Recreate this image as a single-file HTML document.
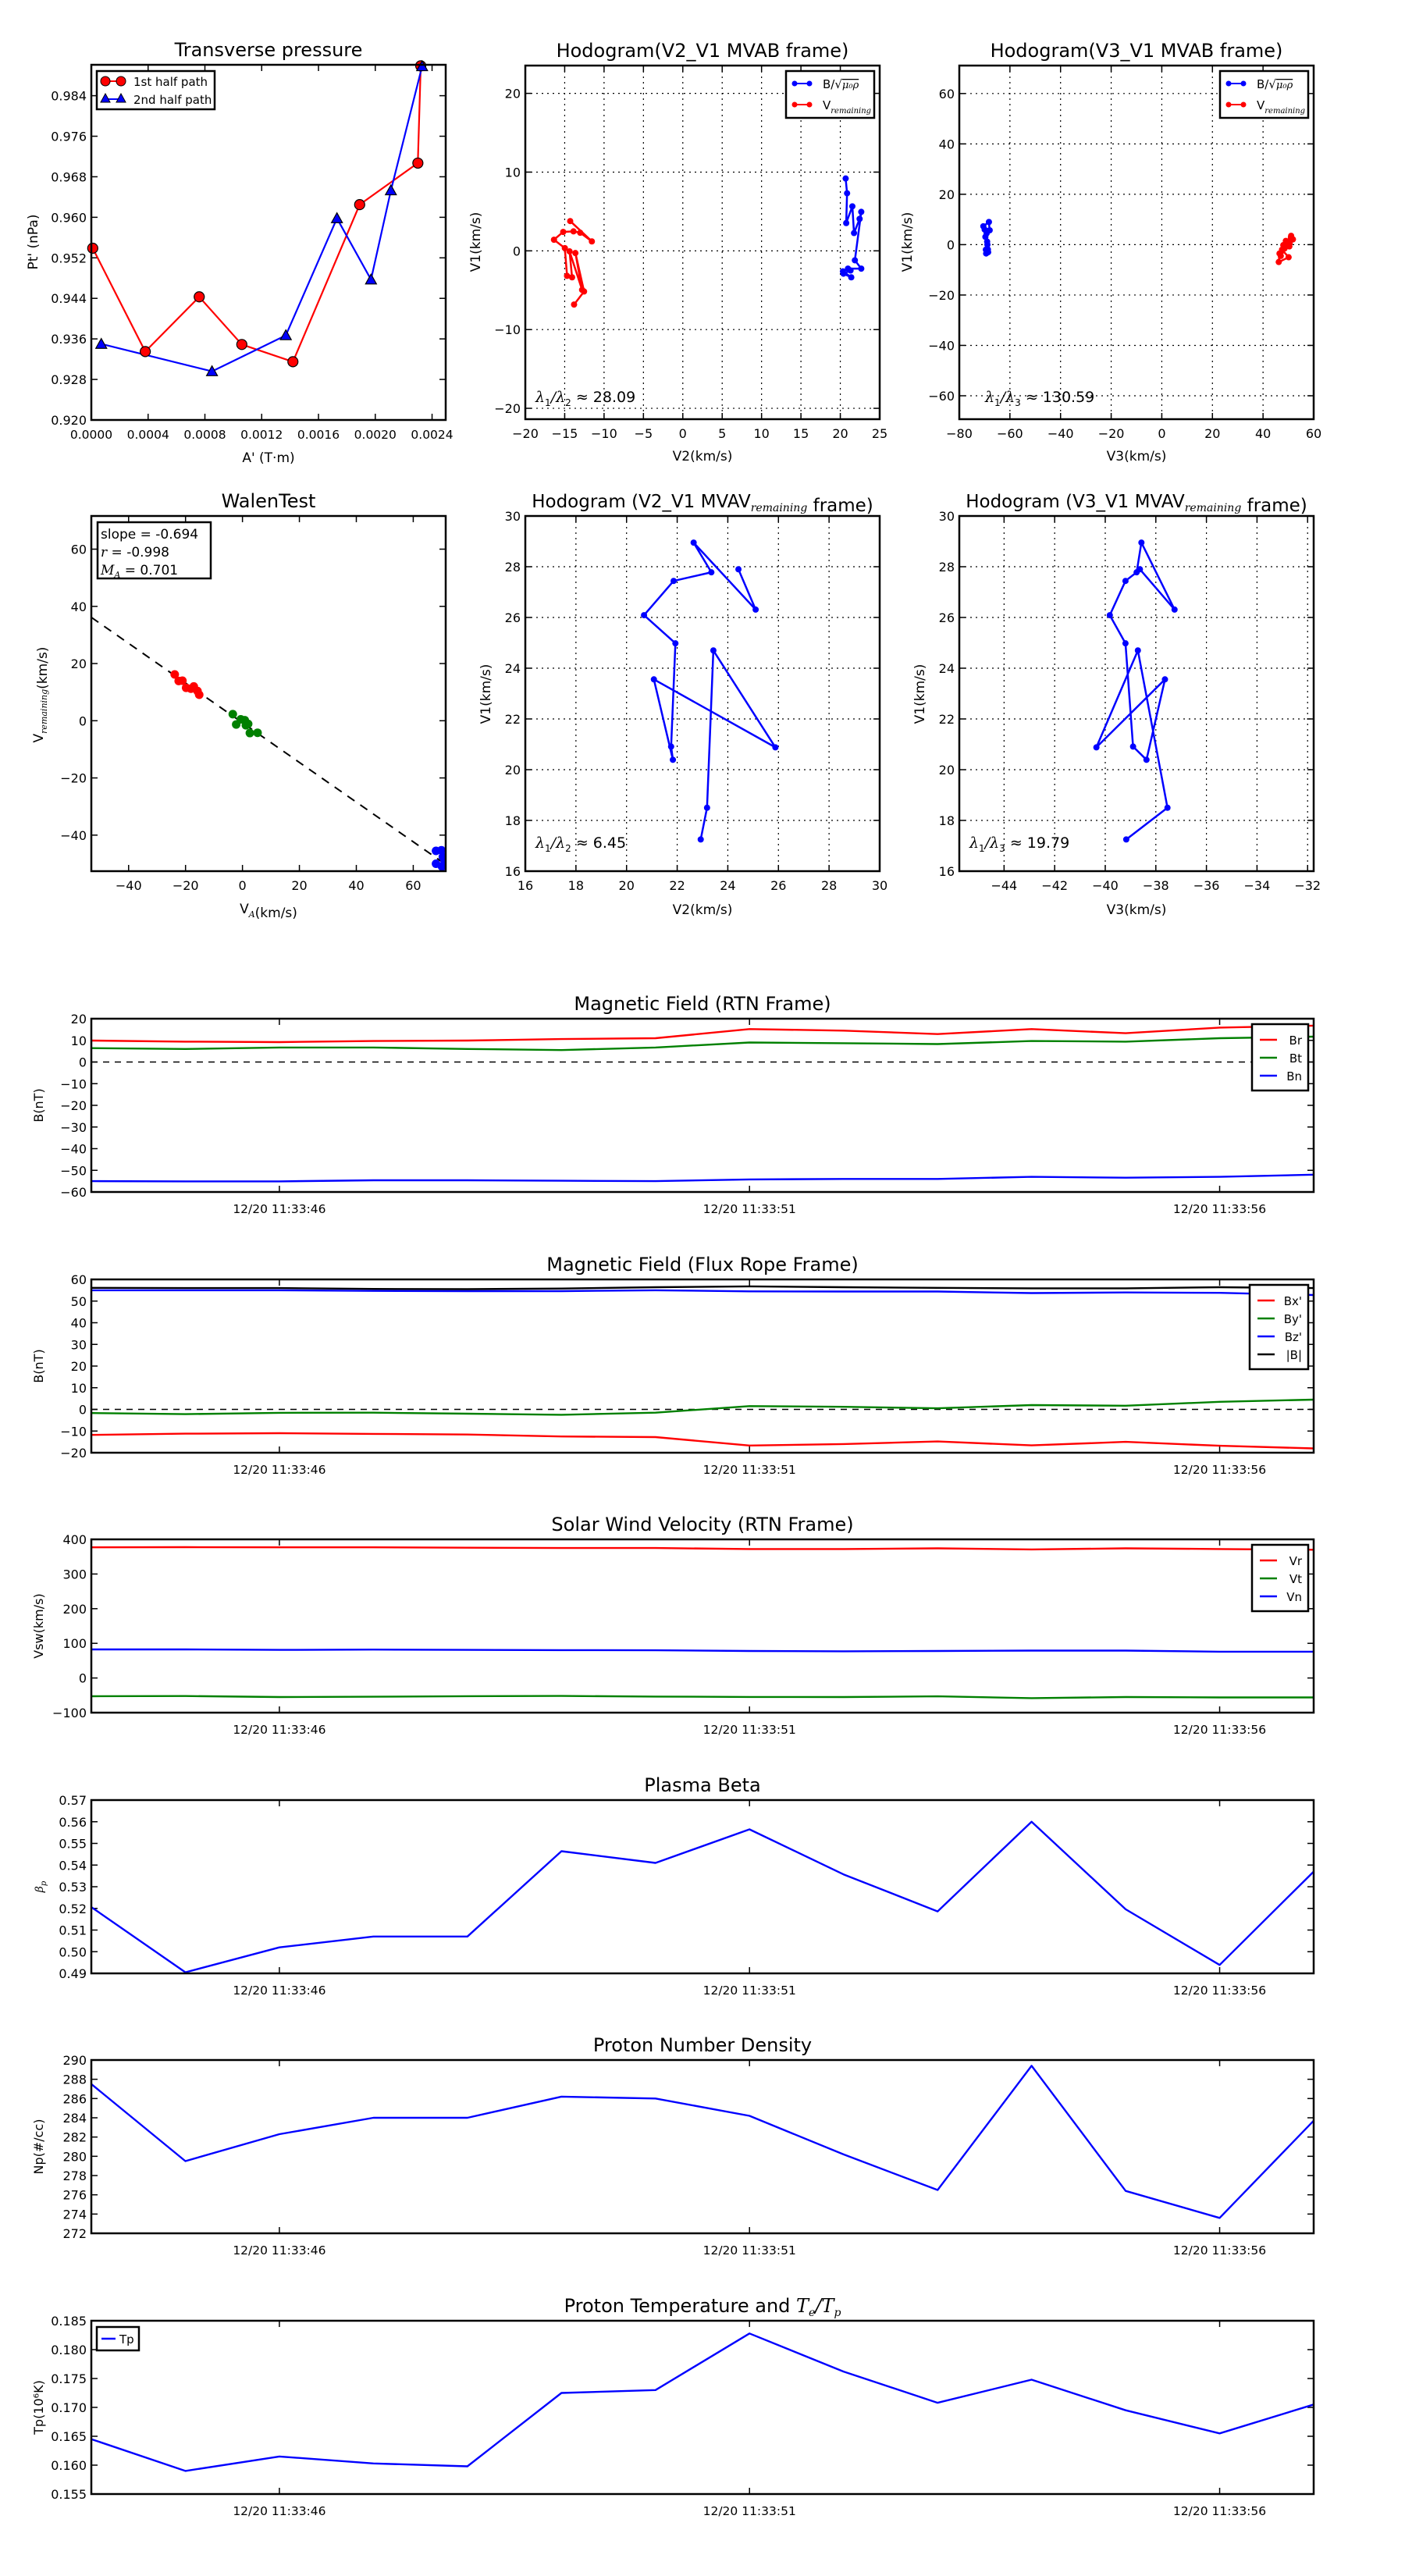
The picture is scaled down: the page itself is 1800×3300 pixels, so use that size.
<!DOCTYPE html>
<html><head><meta charset="utf-8">
<style>
html,body{margin:0;padding:0;background:#fff;}
svg{display:block;font-family:"DejaVu Sans","Liberation Sans",sans-serif;}
</style></head>
<body>
<svg id="fig" xmlns="http://www.w3.org/2000/svg" width="1800" height="3300" viewBox="0 0 1800 3300"></svg>
<script>
// ---------- DATA ----------
// Transverse pressure
const tpX1 = [0.00001,0.00038,0.00076,0.00106,0.00142,0.00189,0.00230,0.00232];
const tpY1 = [0.9539,0.9335,0.9443,0.9349,0.9315,0.9625,0.9707,0.9899];
const tpX2 = [0.00007,0.00085,0.00137,0.00173,0.00197,0.00211,0.00233];
const tpY2 = [0.9350,0.9296,0.9367,0.9598,0.9477,0.9653,0.9898];
const tpXTicks = [0,0.0004,0.0008,0.0012,0.0016,0.0020,0.0024];
const tpXTickLabels = ["0.0000","0.0004","0.0008","0.0012","0.0016","0.0020","0.0024"];
const tpYTicks = [0.920,0.928,0.936,0.944,0.952,0.960,0.968,0.976,0.984];
// Hodogram V2_V1 MVAB
const h1BV2 = [20.68,20.86,20.75,21.53,21.74,22.45,22.66,21.85,22.66,20.97,20.33,21.39,20.40,21.30];
const h1BV1 = [9.19,7.31,3.53,5.65,2.26,4.06,4.95,-1.20,-2.26,-2.26,-2.61,-3.36,-2.90,-2.50];
const h1VV2 = [-13.81,-12.54,-13.64,-12.79,-14.38,-14.06,-14.70,-14.98,-16.36,-15.19,-13.88,-13.03,-11.55,-14.30];
const h1VV1 = [-6.82,-5.16,-0.28,-4.95,-0.07,-3.36,-3.18,0.35,1.41,2.40,2.47,2.30,1.20,3.78];
const h1XTicks = [-20,-15,-10,-5,0,5,10,15,20,25];
const h1YTicks = [-20,-10,0,10,20];
// Hodogram V3_V1 MVAB
const h2BV3 = [-70.5,-68.3,-68.0,-69.7,-69.0,-68.7,-69.4,-69.0,-68.6,-70.0,-69.2,-68.9,-69.5,-69.1];
const h2BV1 = [7.3,9.0,5.7,3.1,1.2,-1.9,-3.5,-2.5,-3.0,6.0,4.5,0.0,-2.0,-3.2];
const h2VV3 = [51.1,51.8,49.4,50.4,48.0,46.5,46.2,50.1,47.5,49.0,51.0,48.5,47.0,50.5];
const h2VV1 = [3.5,2.1,0.9,-0.7,-0.2,-3.5,-6.9,-5.0,-2.0,1.5,2.8,-1.5,-4.5,0.5];
const h2XTicks = [-80,-60,-40,-20,0,20,40,60];
const h2YTicks = [-60,-40,-20,0,20,40,60];
// Walen test
const wRedX = [-23.8,-22.4,-21.1,-19.8,-18.1,-17.1,-15.8,-15.2];
const wRedY = [16.2,13.9,14.0,11.5,11.2,12.0,10.4,9.1];
const wGreenX = [-3.4,-2.2,-0.6,0.8,1.2,2.0,2.6,5.3];
const wGreenY = [2.3,-1.3,0.5,0.2,-1.6,-1.1,-4.3,-4.2];
const wBlueX = [68.0,69.9,68.0,70.1,70.4,71.0];
const wBlueY = [-45.5,-45.3,-50.0,-51.0,-47.6,-49.0];
const wSlope = -0.694, wIntercept = -0.7;
const wXTicks = [-40,-20,0,20,40,60];
const wYTicks = [-40,-20,0,20,40,60];
// Hodograms MVAV remaining
const mvV1 = [17.25,18.5,24.7,20.88,23.56,20.39,20.91,24.98,26.09,27.44,27.78,28.95,26.31,27.9];
const mvV2 = [22.93,23.18,23.43,25.88,21.08,21.83,21.76,21.93,20.69,21.86,23.35,22.65,25.10,24.42];
const mvV3 = [-39.17,-37.54,-38.71,-40.35,-37.64,-38.37,-38.90,-39.20,-39.82,-39.20,-38.76,-38.57,-37.26,-38.63];
const mvV2Ticks = [16,18,20,22,24,26,28,30];
const mvV3Ticks = [-44,-42,-40,-38,-36,-34,-32];
const mvV1Ticks = [16,18,20,22,24,26,28,30];
// Time series (index seconds from 11:33:44)
const tIdx = [0,1,2,3,4,5,6,7,8,9,10,11,12,13];
const tTickIdx = [2,7,12];
const tTickLabels = ["12/20 11:33:46","12/20 11:33:51","12/20 11:33:56"];
const Br = [9.9,9.4,9.2,9.7,9.9,10.6,11.0,15.2,14.5,12.9,15.2,13.3,15.9,16.8];
const Bt = [6.4,6.0,6.7,6.7,6.0,5.5,6.7,9.0,8.7,8.3,9.7,9.4,11.0,11.7];
const Bn = [-55.0,-55.1,-55.1,-54.6,-54.6,-54.8,-55.0,-54.2,-54.0,-54.0,-53.0,-53.4,-53.0,-52.0];
const rtnYTicks = [-60,-50,-40,-30,-20,-10,0,10,20];
const Bx_ = [-11.8,-11.2,-11.0,-11.3,-11.6,-12.5,-12.8,-16.7,-16.0,-14.8,-16.6,-15.0,-16.8,-18.0];
const By_ = [-1.7,-2.2,-1.6,-1.5,-2.0,-2.5,-1.5,1.5,1.2,0.5,2.0,1.7,3.5,4.5];
const Bz_ = [55.0,55.0,55.0,54.7,54.6,54.6,55.0,54.5,54.4,54.4,53.7,54.0,53.8,52.8];
const Bmag = [56.1,56.0,56.0,55.6,55.5,55.8,56.4,56.8,56.4,56.1,55.9,55.9,56.4,56.0];
const frYTicks = [-20,-10,0,10,20,30,40,50,60];
const Vr = [377,377.5,377,377,376,375,375,372,372,374,371,374,372,370];
const Vt = [-52.6,-52,-55,-54,-52.5,-51.8,-53.5,-54.7,-55,-53,-58,-55,-56,-56];
const Vn = [82.5,82.5,81,82,81,80.5,80,78,77,78,79,79,76,76];
const vYTicks = [-100,0,100,200,300,400];
const beta = [0.5206,0.4905,0.502,0.507,0.507,0.5464,0.541,0.5565,0.5357,0.5186,0.560,0.5196,0.4939,0.537];
const betaYTicks = [0.49,0.50,0.51,0.52,0.53,0.54,0.55,0.56,0.57];
const np = [287.5,279.5,282.3,284.0,284.0,286.2,286.0,284.2,280.2,276.5,289.4,276.4,273.6,283.7];
const npYTicks = [272,274,276,278,280,282,284,286,288,290];
const tp = [0.1645,0.159,0.1615,0.1603,0.1598,0.1725,0.173,0.1828,0.1762,0.1708,0.1748,0.1695,0.1655,0.1705];
const tpTYTicks = [0.155,0.160,0.165,0.170,0.175,0.180,0.185];
</script>
<script>
const NS="http://www.w3.org/2000/svg";
const svg=document.getElementById('fig');
function mk(tag,attrs,parent){const e=document.createElementNS(NS,tag);for(const k in attrs)e.setAttribute(k,attrs[k]);(parent||svg).appendChild(e);return e;}
function txt(s,x,y,opt,parent){opt=opt||{};const t=mk('text',{x:x,y:y,'font-size':opt.size||16,'text-anchor':opt.anchor||'middle',fill:'#000'},parent);if(opt.rot)t.setAttribute('transform','rotate(-90 '+x+' '+y+')');t.textContent=s;return t;}
function axes(name,x0,y0,x1,y1,xmin,xmax,ymin,ymax){
  const g=mk('g',{});
  
  
  const sx=v=>x0+(v-xmin)/(xmax-xmin)*(x1-x0);
  const sy=v=>y1-(v-ymin)/(ymax-ymin)*(y1-y0);
  return {g,sx,sy,x0,y0,x1,y1};
}
function frame(a){
  const r=mk('rect',{x:a.x0,y:a.y0,width:a.x1-a.x0,height:a.y1-a.y0,fill:'none',stroke:'#000','stroke-width':2.5},a.g);
  
  
}
function xticks(a,vals,labels,opt){
  opt=opt||{};
  vals.forEach((v,i)=>{const x=a.sx(v);
    if(opt.grid){mk('line',{x1:x,y1:a.y0,x2:x,y2:a.y1,stroke:'#000','stroke-width':1.2,'stroke-dasharray':'2,5'},a.g);}
    mk('line',{x1:x,y1:a.y1,x2:x,y2:a.y1-8,stroke:'#000','stroke-width':1.5},a.g);
    mk('line',{x1:x,y1:a.y0,x2:x,y2:a.y0+8,stroke:'#000','stroke-width':1.5},a.g);
    const t=txt(labels?labels[i]:fmt(v),x,a.y1+(opt.dy||24),{size:opt.size||16},a.g);
    
    
  });
}
function fmt(v){return v<0?'\u2212'+Math.abs(v):String(v);}
function yticks(a,vals,labels,opt){
  opt=opt||{};
  vals.forEach((v,i)=>{const y=a.sy(v);
    if(opt.grid){mk('line',{x1:a.x0,y1:y,x2:a.x1,y2:y,stroke:'#000','stroke-width':1.2,'stroke-dasharray':'2,5'},a.g);}
    mk('line',{x1:a.x0,y1:y,x2:a.x0+8,y2:y,stroke:'#000','stroke-width':1.5},a.g);
    mk('line',{x1:a.x1,y1:y,x2:a.x1-8,y2:y,stroke:'#000','stroke-width':1.5},a.g);
    const t=txt(labels?labels[i]:fmt(v),a.x0-6,y+6,{size:opt.size||16,anchor:'end'},a.g);
    
    
  });
}
function poly(a,xs,ys,color,w,name){
  const pts=xs.map((x,i)=>a.sx(x).toFixed(1)+','+a.sy(ys[i]).toFixed(1)).join(' ');
  const p=mk('polyline',{points:pts,fill:'none',stroke:color,'stroke-width':w||2.2,'stroke-linejoin':'round'},a.g);
  
  
  return p;
}
function dots(a,xs,ys,color,r,name,stroke){
  xs.forEach((x,i)=>{const c=mk('circle',{cx:a.sx(x),cy:a.sy(ys[i]),r:r,fill:color,stroke:stroke||'none','stroke-width':1.2},a.g);
    
    });
}
function tris(a,xs,ys,color,s,name){
  xs.forEach((x,i)=>{const cx=a.sx(x),cy=a.sy(ys[i]);
    const p=mk('polygon',{points:`${cx},${cy-s} ${cx-s},${cy+s*0.8} ${cx+s},${cy+s*0.8}`,fill:color,stroke:'#000','stroke-width':1.2},a.g);
    
    });
}
function title(a,s){const t=txt(s,(a.x0+a.x1)/2,a.y0-11,{size:24},a.g);return t;}
function sub(t,s,size){const ts=mk('tspan',{'font-family':'"DejaVu Serif","Liberation Serif",serif','font-style':'italic','font-size':size||12,dy:5},t);ts.textContent=s;const r=mk('tspan',{dy:-5},t);r.textContent='';return ts;}
function legendBox(a,x,y,w,h){const r=mk('rect',{x:x,y:y,width:w,height:h,fill:'#fff',stroke:'#000','stroke-width':2.5},a.g);}

// ===== Transverse pressure =====
{
const a=axes('transverse-pressure-chart',117,83,571,538,0,0.002496,0.92,0.9901);
xticks(a,tpXTicks,tpXTickLabels,{size:15.5});
yticks(a,tpYTicks,tpYTicks.map(v=>v.toFixed(3)));
poly(a,tpX1,tpY1,'#f00',2.2,'first-half-path-line');
poly(a,tpX2,tpY2,'#00f',2.2,'second-half-path-line');
dots(a,tpX1,tpY1,'#f00',6.5,'first-half-point','#000');
tris(a,tpX2,tpY2,'#00f',7,'second-half-point');
frame(a);title(a,'Transverse pressure');
let t=txt("A' (T\u00b7m)",344,592,{size:17},a.g);
t=txt("Pt' (nPa)",48,310,{size:17,rot:true},a.g);
legendBox(a,124,91,151,49);
mk('line',{x1:135,y1:104,x2:155,y2:104,stroke:'#f00','stroke-width':2},a.g);
mk('circle',{cx:135,cy:104,r:6,fill:'#f00',stroke:'#000'},a.g);mk('circle',{cx:155,cy:104,r:6,fill:'#f00',stroke:'#000'},a.g);
t=txt('1st half path',171,110,{size:15,anchor:'start'},a.g);
mk('line',{x1:135,y1:127,x2:155,y2:127,stroke:'#00f','stroke-width':2},a.g);
mk('polygon',{points:'135,120 129,131 141,131',fill:'#00f',stroke:'#000'},a.g);mk('polygon',{points:'155,120 149,131 161,131',fill:'#00f',stroke:'#000'},a.g);
t=txt('2nd half path',171,133,{size:15,anchor:'start'},a.g);
}
// ===== Hodogram helper =====
function hodoLegend(a,x,y){
  legendBox(a,x,y,113,60);
  mk('line',{x1:x+11,y1:y+16,x2:x+30,y2:y+16,stroke:'#00f','stroke-width':2},a.g);
  mk('circle',{cx:x+11,cy:y+16,r:3.5,fill:'#00f'},a.g);mk('circle',{cx:x+30,cy:y+16,r:3.5,fill:'#00f'},a.g);
  let t=txt('B/\u221a',x+47,y+22,{size:15,anchor:'start'},a.g);
  const s=mk('tspan',{'font-family':'"DejaVu Serif",serif','font-style':'italic','font-size':13,'text-decoration':'overline'},t);s.textContent='\u03bc\u2080\u03c1';
  
  mk('line',{x1:x+11,y1:y+43,x2:x+30,y2:y+43,stroke:'#f00','stroke-width':2},a.g);
  mk('circle',{cx:x+11,cy:y+43,r:3.5,fill:'#f00'},a.g);mk('circle',{cx:x+30,cy:y+43,r:3.5,fill:'#f00'},a.g);
  t=txt('V',x+47,y+49,{size:15,anchor:'start'},a.g);sub(t,'remaining',10);
  
}
function lam(a,x,y,idx,val){
  const t=mk('text',{x:x,y:y,'font-size':19,fill:'#000'},a.g);
  
  const s1=mk('tspan',{'font-family':'"DejaVu Serif",serif','font-style':'italic'},t);s1.textContent='\u03bb';
  const s2=mk('tspan',{'font-size':12,dy:5},t);s2.textContent='1';
  const s3=mk('tspan',{dy:-5,'font-family':'"DejaVu Serif",serif','font-style':'italic'},t);s3.textContent='/\u03bb';
  const s4=mk('tspan',{'font-size':12,dy:5},t);s4.textContent=idx;
  const s5=mk('tspan',{dy:-5},t);s5.textContent=' \u2248 '+val;
}
// ===== Hodogram V2_V1 MVAB =====
{
const a=axes('hodogram-v2-v1-mvab',673,84,1127,537,-20,25,-21.38,23.53);
xticks(a,h1XTicks,null,{grid:true});yticks(a,h1YTicks,null,{grid:true});
poly(a,h1BV2,h1BV1,'#00f',2.5,'b-hodogram-line');dots(a,h1BV2,h1BV1,'#00f',4,'b-point');
poly(a,h1VV2,h1VV1,'#f00',2.5,'v-hodogram-line');dots(a,h1VV2,h1VV1,'#f00',4,'v-point');
frame(a);title(a,'Hodogram(V2_V1 MVAB frame)');
hodoLegend(a,1007,91);lam(a,686,515,'2','28.09');
let t=txt('V2(km/s)',900,590,{size:17},a.g);
t=txt('V1(km/s)',615,310,{size:17,rot:true},a.g);
}
// ===== Hodogram V3_V1 MVAB =====
{
const a=axes('hodogram-v3-v1-mvab',1229,84,1683,537,-80,60,-69.3,71.1);
xticks(a,h2XTicks,null,{grid:true});yticks(a,h2YTicks,null,{grid:true});
poly(a,h2BV3,h2BV1,'#00f',2.5,'b-hodogram-line');dots(a,h2BV3,h2BV1,'#00f',4,'b-point');
poly(a,h2VV3,h2VV1,'#f00',2.5,'v-hodogram-line');dots(a,h2VV3,h2VV1,'#f00',4,'v-point');
frame(a);title(a,'Hodogram(V3_V1 MVAB frame)');
hodoLegend(a,1563,91);lam(a,1262,515,'3','130.59');
let t=txt('V3(km/s)',1456,590,{size:17},a.g);
t=txt('V1(km/s)',1168,310,{size:17,rot:true},a.g);
}
// ===== Walen test =====
{
const a=axes('walen-test-chart',117,661,571,1116,-53.1,71.4,-52.6,71.6);
xticks(a,wXTicks);yticks(a,wYTicks);
const xl=-53.1,xr=71.4;
const dl=mk('line',{x1:a.sx(xl),y1:a.sy(wSlope*xl+wIntercept),x2:a.sx(xr),y2:a.sy(wSlope*xr+wIntercept),stroke:'#000','stroke-width':2,'stroke-dasharray':'11,9'},a.g);

dots(a,wRedX,wRedY,'#f00',5.5,'walen-red-point');
dots(a,wGreenX,wGreenY,'#008000',5.5,'walen-green-point');
const cp=mk('clipPath',{id:'wclip'});mk('rect',{x:117,y:661,width:454,height:455},cp);
const gb=mk('g',{'clip-path':'url(#wclip)'},a.g);
wBlueX.forEach((x,i)=>{const c=mk('circle',{cx:a.sx(x),cy:a.sy(wBlueY[i]),r:5.5,fill:'#00f'},gb);});
frame(a);title(a,'WalenTest');
legendBox(a,125,669,145,72);
let t=txt('slope = -0.694',129,690,{size:17,anchor:'start'},a.g);
t=mk('text',{x:129,y:713,'font-size':17},a.g);
let s=mk('tspan',{'font-family':'"DejaVu Serif",serif','font-style':'italic'},t);s.textContent='r';s=mk('tspan',{},t);s.textContent=' = -0.998';
t=mk('text',{x:129,y:736,'font-size':17},a.g);
s=mk('tspan',{'font-family':'"DejaVu Serif",serif','font-style':'italic'},t);s.textContent='M';s=mk('tspan',{'font-size':11,dy:4,'font-family':'"DejaVu Serif",serif','font-style':'italic'},t);s.textContent='A';s=mk('tspan',{dy:-4},t);s.textContent=' = 0.701';
t=txt('V',344,1170,{size:17},a.g);sub(t,'A',11);mk('tspan',{},t).textContent='(km/s)';
t=txt('V',55,890,{size:17,rot:true},a.g);t.setAttribute('text-anchor','middle');sub(t,'remaining',11);mk('tspan',{},t).textContent='(km/s)';
}
// ===== MVAV hodograms =====
function mvav(name,x0,x1,xs,xmin,xmax,xTicks,titleStr,xlab,idx,val,ylx){
  const a=axes(name,x0,661,x1,1116,xmin,xmax,16,30);
  xticks(a,xTicks,null,{grid:true});yticks(a,mvV1Ticks,null,{grid:true});
  poly(a,xs,mvV1,'#00f',2.5,'hodogram-line');dots(a,xs,mvV1,'#00f',4,'hodogram-point');
  frame(a);
  const t=txt(titleStr,(x0+x1)/2,650,{size:23},a.g);sub(t,'remaining',14);mk('tspan',{},t).textContent=' frame)';
  
  lam(a,x0+13,1086,idx,val);
  let u=txt(xlab,(x0+x1)/2,1171,{size:17},a.g);
  u=txt('V1(km/s)',ylx,889,{size:17,rot:true},a.g);
}
mvav('hodogram-v2-v1-mvav',673,1127,mvV2,16,30,mvV2Ticks,'Hodogram (V2_V1 MVAV','V2(km/s)','2','6.45',628);
mvav('hodogram-v3-v1-mvav',1229,1683,mvV3,-45.77,-31.76,mvV3Ticks,'Hodogram (V3_V1 MVAV','V3(km/s)','3','19.79',1184);

// ===== Time series =====
function ts(name,top,ymin,ymax,yTicks,yLabels,titleStr,ylab,series,opts){
  opts=opts||{};
  const a=axes(name,117,top,1683,top+222,0,13,ymin,ymax);
  yticks(a,yTicks,yLabels);
  tTickIdx.forEach((v,i)=>{const x=a.sx(v);
    mk('line',{x1:x,y1:a.y1,x2:x,y2:a.y1-8,stroke:'#000','stroke-width':1.5},a.g);
    mk('line',{x1:x,y1:a.y0,x2:x,y2:a.y0+8,stroke:'#000','stroke-width':1.5},a.g);
    const t=txt(tTickLabels[i],x,a.y1+27,{size:15.5},a.g);});
  if(opts.zero){const z=mk('line',{x1:a.x0,y1:a.sy(0),x2:a.x1,y2:a.sy(0),stroke:'#000','stroke-width':1.5,'stroke-dasharray':'8,7'},a.g);}
  series.forEach(s=>poly(a,tIdx,s.d,s.c,2.4,s.n));
  frame(a);
  const t=txt(titleStr,900,top-11,{size:24},a.g);
  if(ylab){const yl=txt(ylab,55,top+111,{size:16,rot:true},a.g);}
  if(opts.legend){
    const L=opts.legend;const n=series.length;
    legendBox(a,L.x,top+L.dy,L.w,16+n*23);
    series.forEach((s,i)=>{const yy=top+L.dy+20+i*23;
      mk('line',{x1:L.x+10,y1:yy,x2:L.x+32,y2:yy,stroke:s.c,'stroke-width':2.5},a.g);
      const lt=txt(s.label,L.x+L.w-8,yy+6,{size:15,anchor:'end'},a.g);});
  }
  return a;
}
ts('magnetic-field-rtn-chart',1305,-60,20,rtnYTicks,null,'Magnetic Field (RTN Frame)','B(nT)',
  [{d:Br,c:'#f00',n:'br-line',label:'Br'},{d:Bt,c:'#008000',n:'bt-line',label:'Bt'},{d:Bn,c:'#00f',n:'bn-line',label:'Bn'}],{zero:true,legend:{x:1604,dy:7,w:72}});
ts('magnetic-field-flux-rope-chart',1639,-20,60,frYTicks,null,'Magnetic Field (Flux Rope Frame)','B(nT)',
  [{d:Bx_,c:'#f00',n:'bx-line',label:"Bx'"},{d:By_,c:'#008000',n:'by-line',label:"By'"},{d:Bz_,c:'#00f',n:'bz-line',label:"Bz'"},{d:Bmag,c:'#000',n:'bmag-line',label:'|B|'}],{zero:true,legend:{x:1601,dy:7,w:75}});
ts('solar-wind-velocity-chart',1972,-100,400,vYTicks,null,'Solar Wind Velocity (RTN Frame)','Vsw(km/s)',
  [{d:Vr,c:'#f00',n:'vr-line',label:'Vr'},{d:Vt,c:'#008000',n:'vt-line',label:'Vt'},{d:Vn,c:'#00f',n:'vn-line',label:'Vn'}],{legend:{x:1604,dy:7,w:72}});
{
const a=ts('plasma-beta-chart',2306,0.49,0.57,betaYTicks,betaYTicks.map(v=>v.toFixed(2)),'Plasma Beta','',[{d:beta,c:'#00f',n:'beta-line'}]);
const yl=mk('text',{x:55,y:2417,'font-size':14,'text-anchor':'middle','font-family':'"DejaVu Serif",serif','font-style':'italic',transform:'rotate(-90 55 2417)'},a.g);

let s=mk('tspan',{},yl);s.textContent='\u03b2';s=mk('tspan',{'font-size':10,dy:4},yl);s.textContent='p';
}
ts('proton-density-chart',2639,272,290,npYTicks,null,'Proton Number Density','Np(#/cc)',[{d:np,c:'#00f',n:'np-line'}]);
{
const a=ts('proton-temperature-chart',2973,0.155,0.185,tpTYTicks,tpTYTicks.map(v=>v.toFixed(3)),'','Tp(10\u2076K)',[{d:tp,c:'#00f',n:'tp-line'}]);
const t=txt('Proton Temperature and ',900,2962,{size:24},a.g);
let s=mk('tspan',{'font-family':'"DejaVu Serif",serif','font-style':'italic'},t);s.textContent='T';
s=mk('tspan',{'font-size':14,dy:5,'font-family':'"DejaVu Serif",serif','font-style':'italic'},t);s.textContent='e';
s=mk('tspan',{dy:-5,'font-family':'"DejaVu Serif",serif','font-style':'italic'},t);s.textContent='/T';
s=mk('tspan',{'font-size':14,dy:5,'font-family':'"DejaVu Serif",serif','font-style':'italic'},t);s.textContent='p';

legendBox(a,124,2981,54,30);
mk('line',{x1:130,y1:2996,x2:148,y2:2996,stroke:'#00f','stroke-width':2.5},a.g);
const lt=txt('Tp',153,3002,{size:15,anchor:'start'},a.g);
}
</script>
</body></html>
